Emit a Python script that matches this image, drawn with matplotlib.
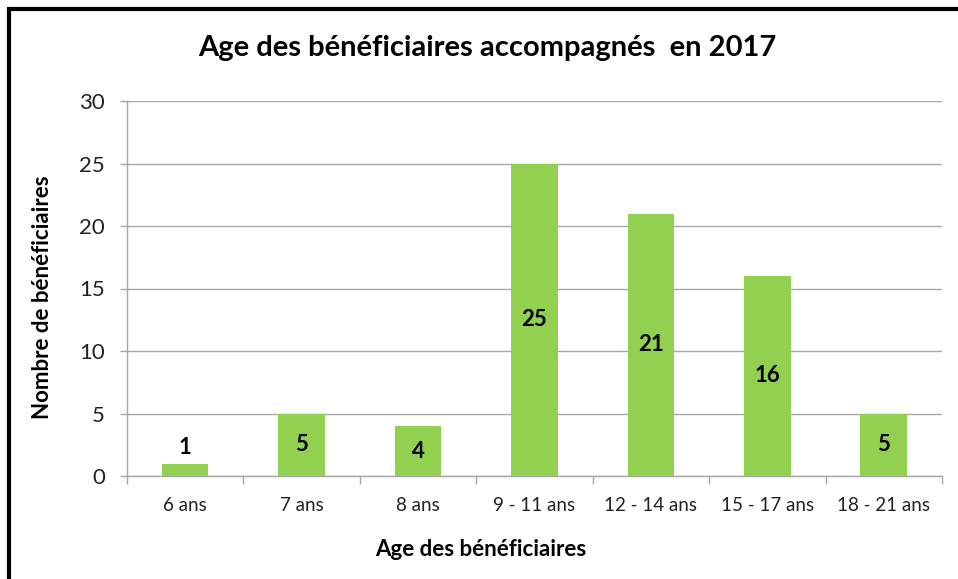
import matplotlib.pyplot as plt
from matplotlib.patches import Rectangle

categories = ["6 ans", "7 ans", "8 ans", "9 - 11 ans", "12 - 14 ans", "15 - 17 ans", "18 - 21 ans"]
values = [1, 5, 4, 25, 21, 16, 5]

plt.rcParams["font.family"] = ["Lato", "DejaVu Sans"]

GREEN = "#92D050"
GREY = "#A6A6A6"

fig = plt.figure(figsize=(9.58, 5.79), dpi=100)
ax = fig.add_axes([127 / 958, 1 - 476 / 579, (942 - 127) / 958, (476 - 101) / 579])

x = list(range(len(categories)))
bars = ax.bar(x, values, width=0.4, color=GREEN, zorder=3)

for b, v in zip(bars, values):
    cx = b.get_x() + b.get_width() / 2
    if v < 2:
        ax.text(cx, v + 0.4, str(v), ha="center", va="bottom", fontsize=16, fontweight="bold", zorder=4)
    else:
        ax.text(cx, v / 2, str(v), ha="center", va="center", fontsize=16, fontweight="bold", zorder=4)

ax.set_xlim(-0.5, len(categories) - 0.5)
ax.set_ylim(0, 30)
ax.set_yticks(range(0, 31, 5))
ax.yaxis.grid(True, color=GREY, linewidth=1, zorder=0)
ax.set_xticks([i + 0.5 for i in range(-1, len(categories))], minor=False)
ax.set_xticklabels([])
ax.set_xticks(x, minor=True)
ax.set_xticklabels(categories, minor=True)
ax.tick_params(axis="x", which="major", length=6, color=GREY, width=1)
ax.tick_params(axis="x", which="minor", length=0, labelsize=13.5, pad=15, labelcolor="#222222")
ax.tick_params(axis="y", length=5, color=GREY, width=1, labelsize=16, pad=11, labelcolor="#222222")

for s in ["top", "right"]:
    ax.spines[s].set_visible(False)
for s in ["left", "bottom"]:
    ax.spines[s].set_color(GREY)
    ax.spines[s].set_linewidth(1)

ax.set_ylabel("Nombre de bénéficiaires", fontsize=16, fontweight="bold", va="center")
ax.set_xlabel("Age des bénéficiaires", fontsize=16, fontweight="bold", va="center")
ax.yaxis.set_label_coords((42 - 127) / 815, (476 - 297) / 375)
ax.xaxis.set_label_coords((481 - 127) / 815, (476 - 549) / 375)
fig.text(487 / 958, 1 - 48 / 579, "Age des bénéficiaires accompagnés  en 2017",
         ha="center", va="center", fontsize=21, fontweight="bold")

# cadre noir autour du graphique
fig.patches.append(Rectangle((9 / 958, -0.05), 1.2, 1 - 9 / 579 + 0.05, transform=fig.transFigure,
                             fill=False, edgecolor="black", linewidth=3))

fig.savefig("out.png", dpi=100)
